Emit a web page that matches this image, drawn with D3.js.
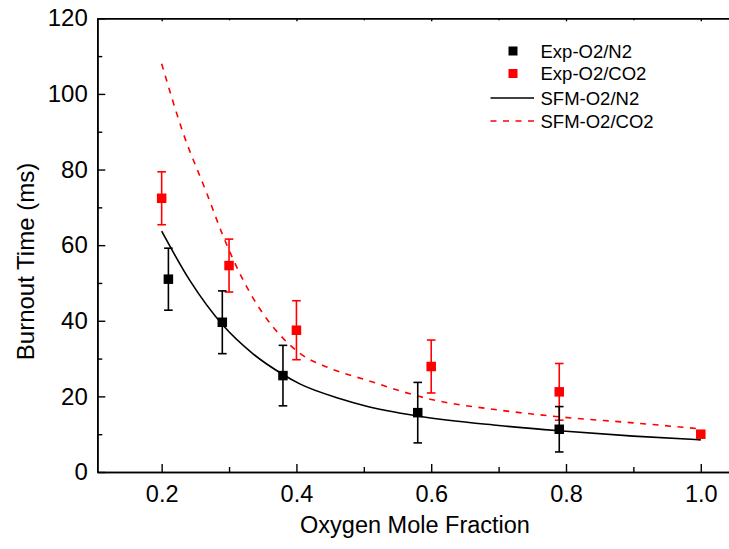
<!DOCTYPE html>
<html>
<head>
<meta charset="utf-8">
<script src="https://cdn.jsdelivr.net/npm/d3@7"></script>
<style>
  html, body { margin: 0; padding: 0; background: #fff; }
  svg { display: block; font-family: "Liberation Sans", Arial, sans-serif; }
</style>
</head>
<body>
<svg id="chart" width="729" height="549"></svg>
<script>
// ---------- data ----------
const expN2X   = [0.21, 0.29, 0.38, 0.58, 0.79];
const expN2Y   = [51.0, 39.6, 25.5, 15.7, 11.3];
const expN2Err = [8.2, 8.3, 8.0, 8.0, 6.0];

const expCO2X   = [0.20, 0.30, 0.40, 0.60, 0.79, 1.00];
const expCO2Y   = [72.4, 54.6, 37.5, 27.9, 21.2, 10.0];
const expCO2Err = [7.0, 7.0, 7.8, 7.0, 7.5, 0.8];

const sfmN2X = [0.20, 0.242, 0.291, 0.336, 0.38, 0.405, 0.465, 0.50, 0.58, 0.70, 0.79, 0.90, 1.00];
const sfmN2Y = [63.7, 50.6, 38.8, 31.2, 25.8, 23.3, 19.4, 17.6, 14.8, 12.3, 10.9, 9.5, 8.5];

const sfmCO2X = [0.20, 0.232, 0.267, 0.291, 0.316, 0.35, 0.38, 0.405, 0.45, 0.504, 0.60, 0.70, 0.79, 0.90, 1.00];
const sfmCO2Y = [108.0, 89.6, 73.7, 62.5, 52.5, 42.0, 35.4, 31.4, 27.4, 24.3, 19.2, 16.4, 14.6, 13.0, 11.4];

const xMajorTicks = [0.2, 0.4, 0.6, 0.8, 1.0];
const xMinorTicks = [0.3, 0.5, 0.7, 0.9];
const yMajorTicks = [0, 20, 40, 60, 80, 100, 120];
const yMinorTicks = [10, 30, 50, 70, 90, 110];

const legendLabels = ["Exp-O2/N2", "Exp-O2/CO2", "SFM-O2/N2", "SFM-O2/CO2"];
const xTitle = "Oxygen Mole Fraction";
const yTitle = "Burnout Time (ms)";

// ---------- layout ----------
const mLeft = 97.3, mTop = 18.3, mBottom = 472, mRight = 731.1;
const svg = d3.select("#chart");

const x = d3.scaleLinear().domain([0.1045, 1.045]).range([mLeft, mRight]);
const y = d3.scaleLinear().domain([0, 120]).range([mBottom, mTop]);

const black = "#000000", red = "#ff0000";

// ---------- axes ----------
const fmtX = d3.format(".1f");

const gx = svg.append("g").attr("transform", `translate(0,${mBottom})`)
  .call(d3.axisBottom(x).tickValues(xMajorTicks).tickSizeInner(-8).tickSizeOuter(0).tickPadding(13).tickFormat(fmtX));
gx.append("g").call(d3.axisBottom(x).tickValues(xMinorTicks).tickSizeInner(-5).tickSizeOuter(0).tickFormat(""));

const gt = svg.append("g").attr("transform", `translate(0,${mTop})`)
  .call(d3.axisTop(x).tickValues(xMajorTicks).tickSizeInner(-3).tickSizeOuter(0).tickFormat(""));
gt.append("g").call(d3.axisTop(x).tickValues(xMinorTicks).tickSizeInner(-2).tickSizeOuter(0).tickFormat(""));

const gy = svg.append("g").attr("transform", `translate(${mLeft},0)`)
  .call(d3.axisLeft(y).tickValues(yMajorTicks).tickSizeInner(-8).tickSizeOuter(0).tickPadding(9.5).tickFormat(d3.format("d")));
gy.append("g").call(d3.axisLeft(y).tickValues(yMinorTicks).tickSizeInner(-5).tickSizeOuter(0).tickFormat(""));

svg.selectAll(".domain").attr("stroke", black).attr("stroke-width", 1.6);
svg.selectAll(".tick line").attr("stroke", black).attr("stroke-width", 1.4);
svg.selectAll(".tick text").attr("fill", black).style("font-size", "24px");
gx.selectAll(".tick text").style("font-size", "23.5px");

svg.append("text").attr("x", 415).attr("y", 533)
  .attr("text-anchor", "middle").style("font-size", "23.5px").attr("fill", black).text(xTitle);
svg.append("text").attr("transform", `translate(34,261.5) rotate(-90)`)
  .attr("text-anchor", "middle").style("font-size", "24px").attr("fill", black).text(yTitle);

// ---------- curves ----------
const line = d3.line().x(d => x(d[0])).y(d => y(d[1])).curve(d3.curveMonotoneX);
svg.append("path").datum(d3.zip(sfmN2X, sfmN2Y)).attr("d", line)
  .attr("fill", "none").attr("stroke", black).attr("stroke-width", 1.6);
svg.append("path").datum(d3.zip(sfmCO2X, sfmCO2Y)).attr("d", line)
  .attr("fill", "none").attr("stroke", red).attr("stroke-width", 1.6).attr("stroke-dasharray", "6,6.5");

// ---------- error bars + markers ----------
function drawExp(xs, ys, errs, color) {
  const data = d3.zip(xs, ys, errs);
  const g = svg.append("g");
  const cap = 4.3, sz = 9.5;
  data.forEach(([xv, yv, ev]) => {
    const cx = x(xv);
    g.append("line").attr("x1", cx).attr("x2", cx).attr("y1", y(yv + ev)).attr("y2", y(yv - ev))
      .attr("stroke", color).attr("stroke-width", 1.6);
    [yv + ev, yv - ev].forEach(v => {
      g.append("line").attr("x1", cx - cap).attr("x2", cx + cap).attr("y1", y(v)).attr("y2", y(v))
        .attr("stroke", color).attr("stroke-width", 1.6);
    });
    g.append("rect").attr("x", cx - sz / 2).attr("y", y(yv) - sz / 2).attr("width", sz).attr("height", sz)
      .attr("fill", color);
  });
}
drawExp(expCO2X, expCO2Y, expCO2Err, red);
drawExp(expN2X, expN2Y, expN2Err, black);

// ---------- legend ----------
const lg = svg.append("g");
const rowY = [51, 73.5, 98, 121];
const textX = 540.5;
const colors = [black, red, black, red];
legendLabels.forEach((lab, i) => {
  if (i < 2) {
    lg.append("rect").attr("x", 513 - 4.5).attr("y", rowY[i] - 4.5).attr("width", 9).attr("height", 9).attr("fill", colors[i]);
  } else {
    lg.append("line").attr("x1", 490.5).attr("x2", 534).attr("y1", rowY[i]).attr("y2", rowY[i])
      .attr("stroke", colors[i]).attr("stroke-width", 1.6)
      .attr("stroke-dasharray", i === 3 ? "6,6.5" : null);
  }
  lg.append("text").attr("x", textX).attr("y", rowY[i]).attr("dy", "0.36em")
    .style("font-size", "18.5px").attr("fill", black).text(lab);
});
</script>
</body>
</html>
